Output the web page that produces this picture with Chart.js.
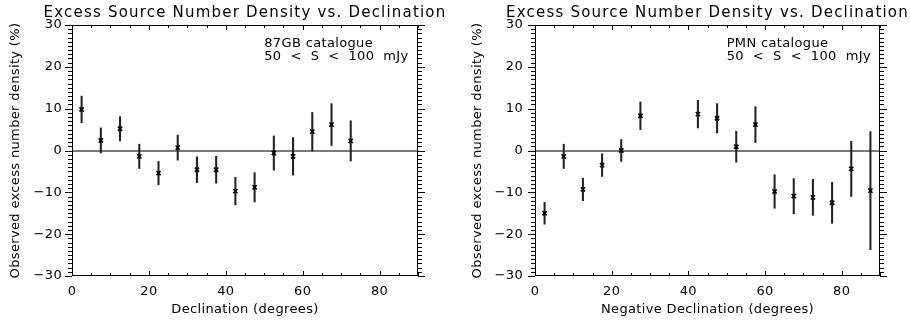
<!DOCTYPE html>
<html>
<head>
<meta charset="utf-8">
<script src="https://cdn.jsdelivr.net/npm/chart.js@4.4.0/dist/chart.umd.min.js"></script>
<style>
  html, body { margin: 0; padding: 0; background: #fff; }
  #wrap { display: flex; width: 910px; height: 324px; }
  canvas { display: block; }
</style>
</head>
<body>
<div id="wrap">
  <canvas id="gbChart" width="455" height="324"></canvas>
  <canvas id="pmnChart" width="455" height="324"></canvas>
</div>
<script>
// Values: bin centre (deg), excess (%), 1-sigma error (%)
const gbDecl = [2.5, 7.5, 12.5, 17.5, 22.5, 27.5, 32.5, 37.5, 42.5, 47.5, 52.5, 57.5, 62.5, 67.5, 72.5];
const gbExcess = [9.8, 2.4, 5.2, -1.4, -5.4, 0.7, -4.6, -4.6, -9.7, -8.8, -0.6, -1.4, 4.5, 6.2, 2.3];
const gbError = [3.2, 3.0, 2.9, 2.9, 2.8, 3.0, 3.1, 3.2, 3.3, 3.5, 4.1, 4.5, 4.6, 5.0, 4.8];

const pmnDecl = [2.5, 7.5, 12.5, 17.5, 22.5, 27.5, 42.5, 47.5, 52.5, 57.5, 62.5, 67.5, 72.5, 77.5, 82.5, 87.5];
const pmnExcess = [-15.0, -1.4, -9.3, -3.5, 0.0, 8.3, 8.7, 7.7, 0.9, 6.2, -9.8, -10.9, -11.2, -12.5, -4.4, -9.6];
const pmnError = [2.6, 2.9, 2.7, 2.7, 2.6, 3.3, 3.3, 3.5, 3.7, 4.3, 4.0, 4.2, 4.3, 4.9, 6.6, 14.1];

const titleText = 'Excess Source Number Density vs. Declination';
const yTitle = 'Observed excess number density (%)';
const gbXTitle = 'Declination (degrees)';
const pmnXTitle = 'Negative Declination (degrees)';
const gbNote = ['87GB catalogue', '50  <  S  <  100  mJy'];
const pmnNote = ['PMN catalogue', '50  <  S  <  100  mJy'];

Chart.defaults.font.family = '"DejaVu Sans", sans-serif';
Chart.defaults.font.size = 13;
Chart.defaults.color = '#000';

// IDL style frame: full box, inward x ticks, outward y ticks, title and note text
const idlFrame = {
    id: 'idlFrame',
    beforeDraw(chart) {
        chart.ctx.letterSpacing = '0.35px';
    },
    afterDraw(chart, args, opts) {
        const { ctx, chartArea: a, scales: { x, y } } = chart;
        ctx.save();
        ctx.strokeStyle = '#000';
        ctx.lineWidth = 1;
        ctx.strokeRect(a.left + 0.5, a.top + 0.5, a.width - 1, a.height - 1);

        ctx.beginPath();
        // y: minor every 1, major every 10, pointing out
        for (let v = y.min; v <= y.max; v += 1) {
            const py = Math.round(y.getPixelForValue(v)) + 0.5;
            const len = v % 10 === 0 ? 7 : 4;
            ctx.moveTo(a.left, py); ctx.lineTo(a.left - len, py);
            ctx.moveTo(a.right, py); ctx.lineTo(a.right + len, py);
        }
        // x: minor every 5, major every 20, pointing in
        for (let v = x.min; v <= x.max; v += 5) {
            const px = Math.round(x.getPixelForValue(v)) + 0.5;
            const len = v % 20 === 0 ? 5 : 3;
            ctx.moveTo(px, a.bottom); ctx.lineTo(px, a.bottom - len);
            ctx.moveTo(px, a.top); ctx.lineTo(px, a.top + len);
        }
        ctx.stroke();

        ctx.fillStyle = '#000';
        ctx.font = '15px "DejaVu Sans"';
        ctx.letterSpacing = '1.2px';
        ctx.textAlign = 'center';
        ctx.textBaseline = 'alphabetic';
        ctx.fillText(titleText, (a.left + a.right) / 2, 17);

        ctx.font = '13px "DejaVu Sans"';
        ctx.letterSpacing = '0.35px';
        ctx.textAlign = 'left';
        const nx = x.getPixelForValue(50);
        ctx.fillText(opts.note[0], nx, a.top + 21.5);
        ctx.fillText(opts.note[1], nx, a.top + 34.5);
        ctx.restore();
    }
};

function makeChart(canvasId, decl, vals, errs, xTitle, note, yWidth, yTitlePad, yTickPad, padRight) {
    const ctx = document.getElementById(canvasId).getContext('2d');
    return new Chart(ctx, {
        type: 'scatter',
        data: {
            datasets: [{
                type: 'scatter',
                data: decl.map((d, i) => ({ x: d, y: vals[i] })),
                pointStyle: 'crossRot',
                radius: 3,
                borderWidth: 1.6,
                borderColor: '#000',
                backgroundColor: '#000'
            }, {
                type: 'bar',
                data: decl.map((d, i) => ({ x: d, y: [vals[i] - errs[i], vals[i] + errs[i]] })),
                barThickness: 1.4,
                grouped: false,
                borderWidth: 0,
                backgroundColor: '#222'
            }]
        },
        options: {
            responsive: false,
            animation: false,
            events: [],
            layout: { padding: { top: 25, right: padRight, bottom: 0, left: 0 } },
            plugins: {
                legend: { display: false },
                tooltip: { enabled: false },
                title: { display: false },
                idlFrame: { note: note }
            },
            scales: {
                x: {
                    type: 'linear',
                    min: 0,
                    max: 90,
                    offset: false,
                    afterFit: s => { s.height = 48; },
                    grid: { display: false, drawTicks: false },
                    border: { display: false },
                    ticks: { stepSize: 20, includeBounds: false, padding: 8, maxRotation: 0 },
                    title: { display: true, text: xTitle, padding: { top: 0, bottom: 7 } }
                },
                y: {
                    type: 'linear',
                    min: -30,
                    max: 30,
                    afterFit: s => { s.width = yWidth; },
                    grid: {
                        drawTicks: false,
                        lineWidth: 2,
                        color: c => (c.tick && c.tick.value === 0) ? '#7a7a7a' : 'rgba(0,0,0,0)'
                    },
                    border: { display: false },
                    ticks: {
                        stepSize: 10,
                        padding: yTickPad,
                        callback: v => v < 0 ? '\u2212' + Math.abs(v) : String(v)
                    },
                    title: { display: true, text: yTitle, padding: { top: yTitlePad, bottom: 0 } }
                }
            }
        },
        plugins: [idlFrame]
    });
}

makeChart('gbChart', gbDecl, gbExcess, gbError, gbXTitle, gbNote, 72, 8, 10, 37);
makeChart('pmnChart', pmnDecl, pmnExcess, pmnError, pmnXTitle, pmnNote, 80, 15, 12, 30);
</script>
</body>
</html>
